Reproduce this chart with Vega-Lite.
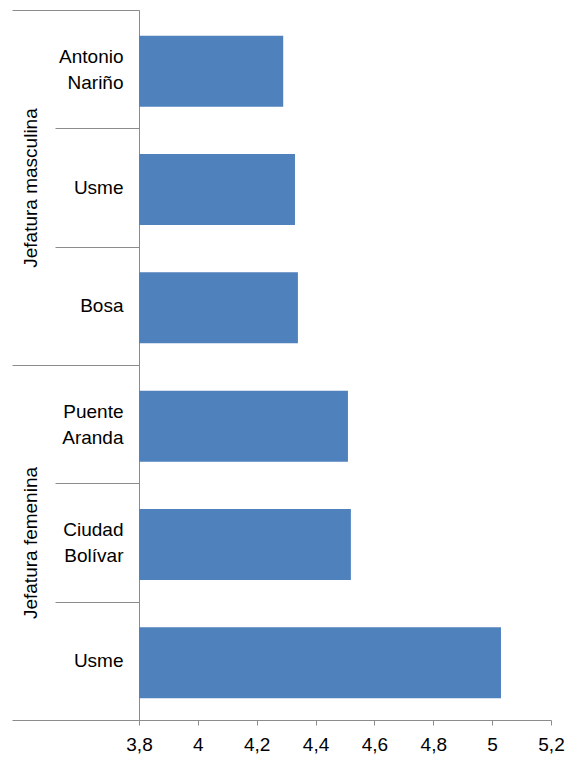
{
  "$schema": "https://vega.github.io/schema/vega-lite/v6.json",
  "width": 412,
  "height": 710,
  "autosize": {"type": "none"},
  "padding": {"left": 139, "top": 10, "right": 19, "bottom": 40},
  "background": "white",
  "config": {
    "view": {"stroke": null},
    "font": "Liberation Sans",
    "axis": {
      "labelFont": "Liberation Sans",
      "labelFontSize": 19,
      "labelColor": "black",
      "domainColor": "#8c8c8c",
      "tickColor": "#8c8c8c",
      "grid": false
    }
  },
  "data": {
    "values": [
      {"grupo": "Jefatura masculina", "localidad": "Antonio Nariño", "valor": 4.29},
      {"grupo": "Jefatura masculina", "localidad": "Usme ", "valor": 4.33},
      {"grupo": "Jefatura masculina", "localidad": "Bosa", "valor": 4.34},
      {"grupo": "Jefatura femenina", "localidad": "Puente Aranda", "valor": 4.51},
      {"grupo": "Jefatura femenina", "localidad": "Ciudad Bolívar", "valor": 4.52},
      {"grupo": "Jefatura femenina", "localidad": "Usme", "valor": 5.03}
    ]
  },
  "layer": [
    {
      "mark": {"type": "bar", "height": {"band": 0.6}, "yOffset": 2, "color": "#4F81BD", "clip": true},
      "encoding": {
        "x": {
          "field": "valor",
          "type": "quantitative",
          "scale": {"domain": [3.8, 5.2], "nice": false, "zero": false},
          "axis": {
            "values": [3.8, 4, 4.2, 4.4, 4.6, 4.8, 5, 5.2],
            "tickSize": 5,
            "labelPadding": 10,
            "labelFlush": false,
            "labelExpr": "replace(format(datum.value, '.2~f'), '.', ',')",
            "title": null
          }
        },
        "y": {
          "field": "localidad",
          "type": "nominal",
          "sort": null,
          "scale": {"paddingInner": 0, "paddingOuter": 0},
          "axis": {
            "orient": "left",
            "tickBand": "extent",
            "tickSize": 84,
            "labelPadding": -68,
            "labelLineHeight": 26,
            "labelOffset": {
              "condition": {"test": "isValid(datum.value) && indexof(datum.value, ' ') > 0 && indexof(datum.value, ' ') < length(datum.value) - 1", "value": -13},
              "value": 0
            },
            "labelExpr": "isValid(datum.value) ? (datum.value == 'Usme ' ? 'Usme\u00a0' : split(datum.value, ' ')) : ''",
            "title": null
          }
        }
      }
    },
    {
      "mark": {"type": "bar", "opacity": 0},
      "encoding": {
        "y": {
          "field": "grupo",
          "type": "nominal",
          "sort": null,
          "scale": {"paddingInner": 0, "paddingOuter": 0},
          "axis": {
            "orient": "left",
            "tickBand": "extent",
            "tickSize": 127,
            "labelPadding": -28,
            "labelAngle": -90,
            "labelAlign": "center",
            "labelBaseline": "bottom",
            "domain": false,
            "title": null
          }
        }
      }
    }
  ],
  "resolve": {"scale": {"y": "independent"}, "axis": {"y": "independent"}}
}
